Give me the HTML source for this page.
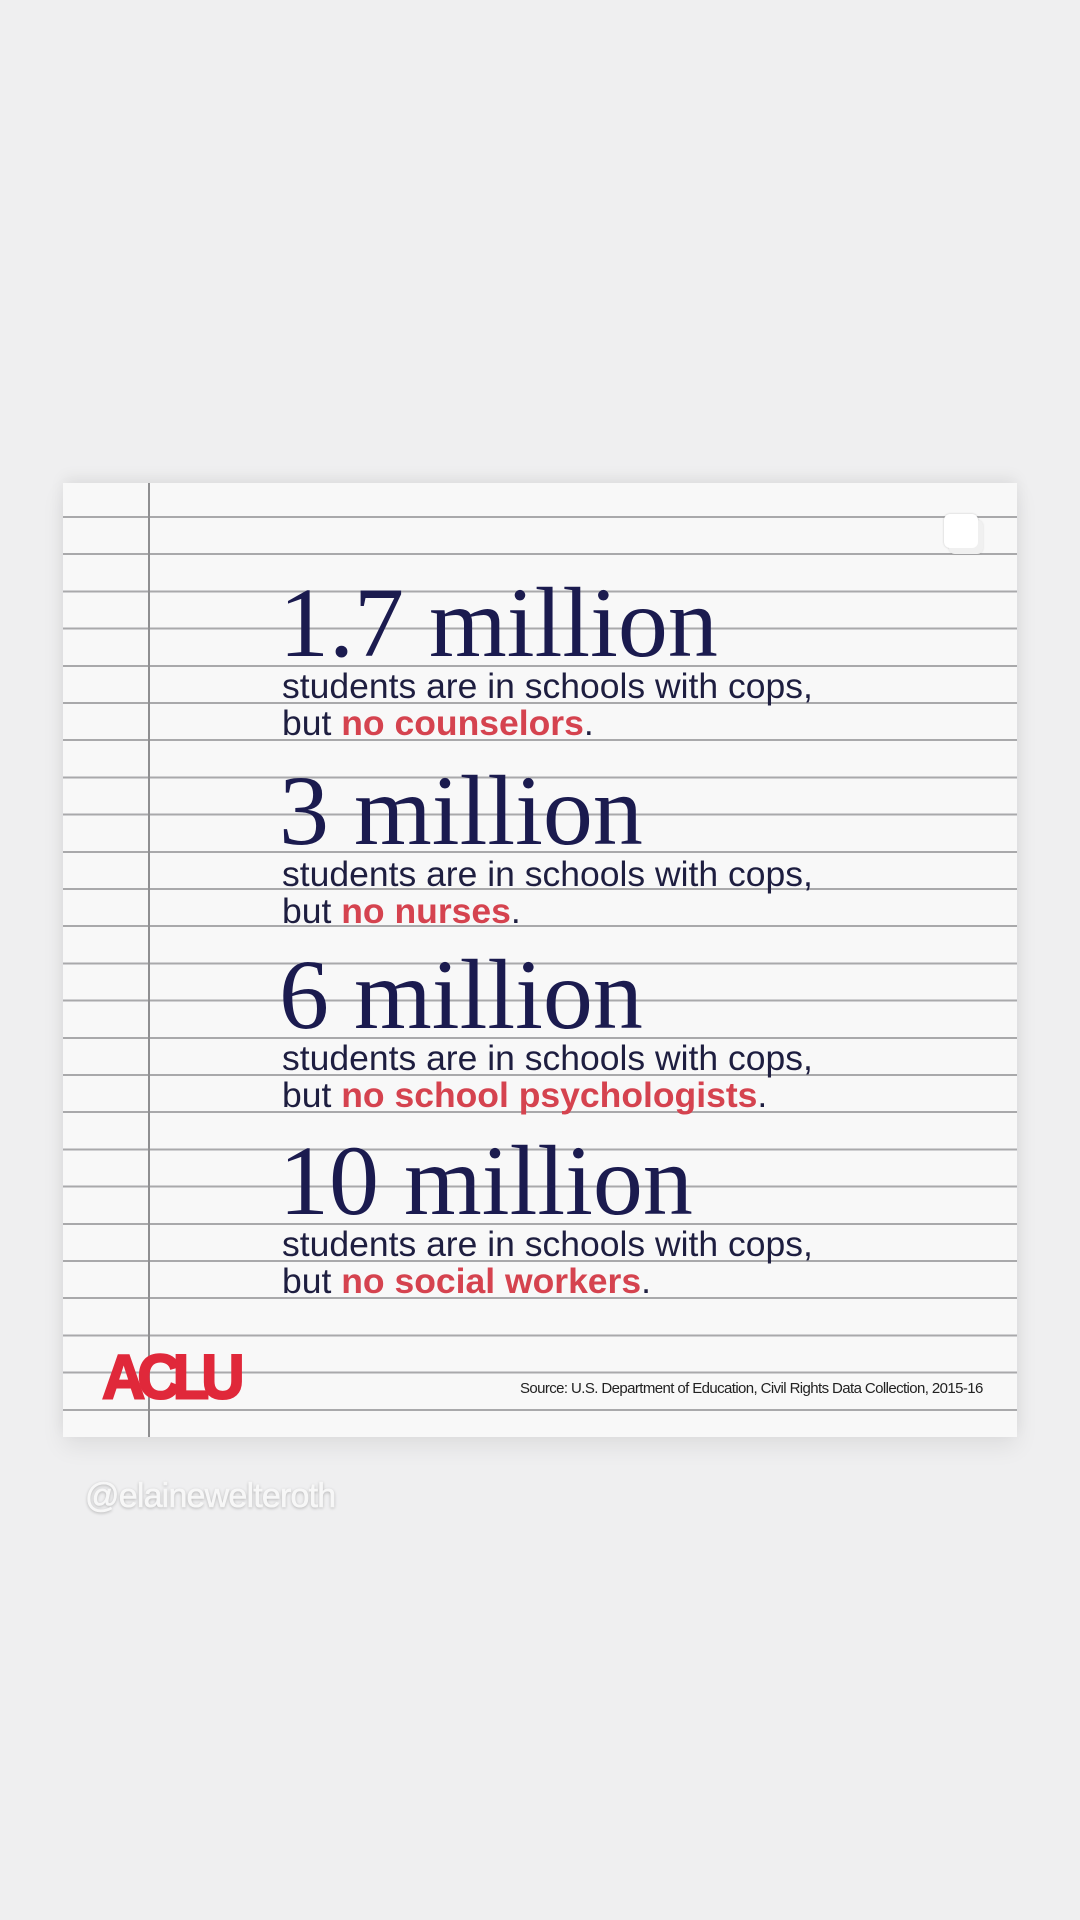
<!DOCTYPE html>
<html><head><meta charset="utf-8"><style>
*{margin:0;padding:0}
body{width:1080px;height:1920px;background:#efeff0;position:relative;overflow:hidden;font-family:"Liberation Sans",sans-serif}
.paper{position:absolute;left:63px;top:483px;width:954px;height:954px;background:#f8f8f8;box-shadow:0 -6px 14px rgba(0,0,0,0.06),0 10px 22px rgba(0,0,0,0.07);overflow:hidden;
background-image:repeating-linear-gradient(to bottom,transparent 0,transparent 33px,#a9a9ab 33px,#a9a9ab 35px,transparent 35px,transparent 37.2px);background-position:0 0}
.margin{position:absolute;left:85px;top:0;width:2px;height:954px;background:#8f8f91}
.h{position:absolute;left:279px;font-family:"Liberation Serif",serif;font-size:100px;color:#1b1b4f;line-height:1;white-space:nowrap}
.s{position:absolute;left:282px;font-size:35.5px;color:#1e1e40;line-height:1;white-space:nowrap}
.r{color:#d5434f;font-weight:bold}
.aclu{position:absolute;left:102px;top:1346px;font-size:60px;font-weight:bold;color:#e0283a;letter-spacing:-8px;line-height:1;transform:scaleY(1.05);transform-origin:top left;-webkit-text-stroke:2px #e0283a}
.src{position:absolute;left:520px;top:1380px;font-size:15px;color:#222;letter-spacing:-0.6px;white-space:nowrap}
.handle{position:absolute;left:85px;top:1477px;font-size:34px;color:#f7f7f7;text-shadow:0 1px 3px rgba(0,0,0,0.3);letter-spacing:-0.8px;-webkit-text-stroke:0.6px #f7f7f7}
.box{position:absolute;left:944px;top:514px;width:34px;height:34px;border-radius:6px;background:#fff;box-shadow:5px 6px 0 #f0f0f0,5px 6px 2px rgba(0,0,0,0.12),0 0 2px rgba(0,0,0,0.2)}
</style></head><body>
<div class="paper"><div class="margin"></div></div>
<div class="box"></div>
<div class="h" style="top:573px">1.7 million</div>
<div class="s" style="top:669px">students are in schools with cops,</div>
<div class="s" style="top:706px">but <span class="r">no counselors</span>.</div>
<div class="h" style="top:761px">3 million</div>
<div class="s" style="top:857px">students are in schools with cops,</div>
<div class="s" style="top:894px">but <span class="r">no nurses</span>.</div>
<div class="h" style="top:945px">6 million</div>
<div class="s" style="top:1041px">students are in schools with cops,</div>
<div class="s" style="top:1078px">but <span class="r">no school psychologists</span>.</div>
<div class="h" style="top:1131px">10 million</div>
<div class="s" style="top:1227px">students are in schools with cops,</div>
<div class="s" style="top:1264px">but <span class="r">no social workers</span>.</div>
<div class="aclu">ACLU</div>
<div class="src">Source: U.S. Department of Education, Civil Rights Data Collection, 2015-16</div>
<div class="handle">@elainewelteroth</div>
</body></html>
